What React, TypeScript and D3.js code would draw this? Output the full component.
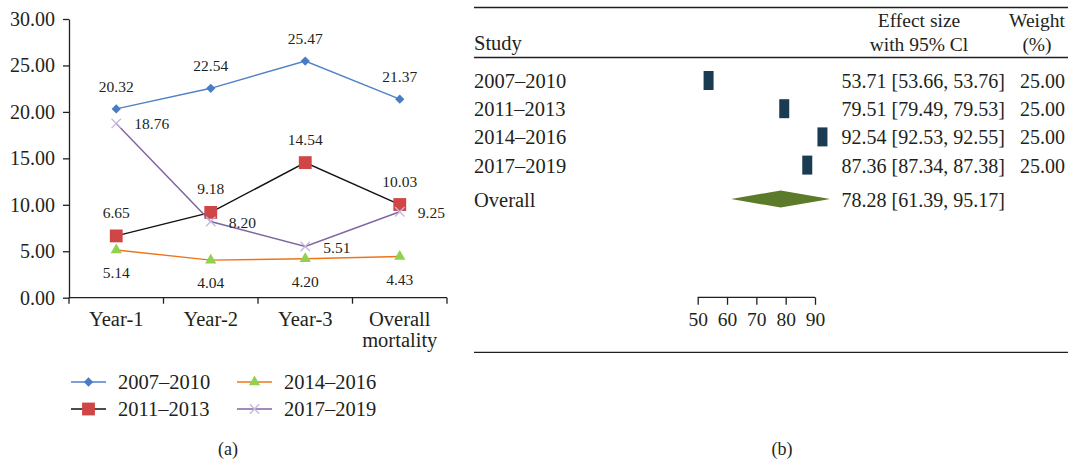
import React, { useEffect, useRef } from "react";
import * as d3 from "d3";

// Panel (a): mortality by period
const categories = ["Year-1", "Year-2", "Year-3", "Overall mortality"];
const periods = ["2007–2010", "2011–2013", "2014–2016", "2017–2019"];
const mort2007 = [20.32, 22.54, 25.47, 21.37];
const mort2011 = [6.65, 9.18, 14.54, 10.03];
const mort2014 = [5.14, 4.04, 4.2, 4.43];
const mort2017 = [18.76, 8.2, 5.51, 9.25];
const yTicks = [0, 5, 10, 15, 20, 25, 30];

// Panel (b): forest plot
const effect = [53.71, 79.51, 92.54, 87.36];
const ciLow = [53.66, 79.49, 92.53, 87.34];
const ciHigh = [53.76, 79.53, 92.55, 87.38];
const weights = [25, 25, 25, 25];
const overall = [78.28, 61.39, 95.17];
const forestTicks = [50, 60, 70, 80, 90];

const FONT = "'Liberation Serif', 'Times New Roman', serif";

const App = () => {
  const svgRef = useRef<SVGSVGElement>(null);

  useEffect(() => {
    const svg = d3.select(svgRef.current);
    svg.selectAll("*").remove();
    svg.attr("font-family", FONT).attr("fill", "#231f20");

    // ---------- panel (a) ----------
    const x = d3.scaleBand().domain(categories).range([69, 447]);
    const y = d3.scaleLinear().domain([0, 30]).range([297.7, 19]);
    const cx = (c: string) => (x(c) as number) + x.bandwidth() / 2;

    const yAxis = svg
      .append("g")
      .attr("transform", "translate(69,0)")
      .call(
        d3.axisLeft(y).tickValues(yTicks).tickFormat(d3.format(".2f")).tickSize(6).tickSizeOuter(0).tickPadding(8)
      );
    yAxis.selectAll("text").attr("font-size", 20).attr("font-family", FONT).attr("fill", "#231f20");
    yAxis.selectAll("line,path").attr("stroke", "#231f20").attr("stroke-width", 1.3);

    // x axis, ticks at category boundaries
    const xa = svg.append("g");
    xa.append("line")
      .attr("x1", 69).attr("x2", 447).attr("y1", y(0)).attr("y2", y(0))
      .attr("stroke", "#231f20").attr("stroke-width", 1.3);
    const bounds = categories.map((c) => x(c) as number).concat([x.range()[1]]);
    xa.selectAll(".tk").data(bounds).enter().append("line")
      .attr("x1", (d) => d).attr("x2", (d) => d)
      .attr("y1", y(0)).attr("y2", y(0) + 6)
      .attr("stroke", "#231f20").attr("stroke-width", 1.3);
    categories.forEach((c) => {
      const words = c === "Overall mortality" ? ["Overall", "mortality"] : [c];
      words.forEach((w, i) => {
        xa.append("text").attr("x", cx(c)).attr("y", 326 + i * 21)
          .attr("text-anchor", "middle").attr("font-size", 20.5).text(w);
      });
    });

    const series = [
      { name: periods[0], vals: mort2007, line: "#4f81c7", fill: "#4a7cc4", marker: "diamond", lab: [0, -17, "middle"] },
      { name: periods[1], vals: mort2011, line: "#111111", fill: "#d04646", marker: "square", lab: [0, -18, "middle"] },
      { name: periods[2], vals: mort2014, line: "#ef7418", fill: "#92d050", marker: "triangle", lab: [0, 28, "middle"] },
      { name: periods[3], vals: mort2017, line: "#8064a2", fill: "#c4b8e0", marker: "cross", lab: [18, 6, "start"] },
    ];

    const symbolOf = (m: string) =>
      m === "diamond"
        ? d3.symbol().type(d3.symbolDiamond2).size(55)
        : m === "square"
        ? d3.symbol().type(d3.symbolSquare).size(165)
        : m === "triangle"
        ? d3.symbol().type(d3.symbolTriangle).size(55)
        : d3.symbol().type(d3.symbolTimes).size(60);

    const drawMarker = (g: any, m: string, px: number, py: number, fill: string) => {
      const p = g.append("path").attr("d", symbolOf(m)()).attr("transform", `translate(${px},${py})`);
      if (m === "cross") p.attr("fill", "none").attr("stroke", fill).attr("stroke-width", 1.3);
      else p.attr("fill", fill);
    };

    const lineGen = d3.line<number>().x((_, i) => cx(categories[i])).y((d) => y(d));

    series.forEach((s) => {
      const g = svg.append("g");
      g.append("path").attr("d", lineGen(s.vals)).attr("fill", "none").attr("stroke", s.line).attr("stroke-width", 1.4);
      s.vals.forEach((v, i) => drawMarker(g, s.marker, cx(categories[i]), y(v), s.fill));
    });
    // value labels
    series.forEach((s) => {
      s.vals.forEach((v, i) => {
        svg.append("text")
          .attr("x", cx(categories[i]) + (s.lab[0] as number))
          .attr("y", y(v) + (s.lab[1] as number))
          .attr("text-anchor", s.lab[2] as string)
          .attr("font-size", 15.5)
          .text(v.toFixed(2));
      });
    });

    // legend
    const legendPos = [
      [71, 382], [71, 409], [237, 382], [237, 409],
    ];
    series.forEach((s, j) => {
      const [lx, ly] = legendPos[j];
      const g = svg.append("g");
      g.append("line").attr("x1", lx).attr("x2", lx + 35).attr("y1", ly).attr("y2", ly)
        .attr("stroke", s.line).attr("stroke-width", 1.4);
      drawMarker(g, s.marker, lx + 17.5, ly, s.fill);
      g.append("text").attr("x", lx + 47).attr("y", ly + 7).attr("font-size", 20.5).text(s.name);
    });

    svg.append("text").attr("x", 228).attr("y", 455).attr("text-anchor", "middle").attr("font-size", 18).text("(a)");

    // ---------- panel (b) ----------
    const fx = d3.scaleLinear().domain([50, 90]).range([697.7, 815]);
    const rowY = d3.scaleLinear().domain([0, 1]).range([80.5, 108.7]);
    const overallY = 199;
    const left = 474;
    const right = 1068;

    const fb = svg.append("g");
    [7.5, 57.5, 352.3].forEach((ly) => {
      fb.append("line").attr("x1", left).attr("x2", right).attr("y1", ly).attr("y2", ly)
        .attr("stroke", "#231f20").attr("stroke-width", 1.3);
    });

    fb.append("text").attr("x", left).attr("y", 50).attr("font-size", 20.5).text("Study");
    fb.append("text").attr("x", 919).attr("y", 27).attr("text-anchor", "middle").attr("font-size", 19.5).text("Effect size");
    fb.append("text").attr("x", 919).attr("y", 50.5).attr("text-anchor", "middle").attr("font-size", 19.5).text("with 95% Cl");
    fb.append("text").attr("x", 1037).attr("y", 27).attr("text-anchor", "middle").attr("font-size", 19.5).text("Weight");
    fb.append("text").attr("x", 1037).attr("y", 50.5).attr("text-anchor", "middle").attr("font-size", 19.5).text("(%)");

    periods.forEach((p, i) => {
      const cy = rowY(i);
      fb.append("text").attr("x", left).attr("y", cy + 7.5).attr("font-size", 20.5).text(p);
      fb.append("line").attr("x1", fx(ciLow[i])).attr("x2", fx(ciHigh[i])).attr("y1", cy).attr("y2", cy).attr("stroke", "#1b3b53");
      fb.append("rect").attr("x", fx(effect[i]) - 5).attr("y", cy - 9.5).attr("width", 10).attr("height", 19).attr("fill", "#1b3b53");
      fb.append("text").attr("x", 841.5).attr("y", cy + 7.5).attr("font-size", 20)
        .text(`${effect[i].toFixed(2)} [${ciLow[i].toFixed(2)}, ${ciHigh[i].toFixed(2)}]`);
      fb.append("text").attr("x", 1065).attr("y", cy + 7.5).attr("text-anchor", "end").attr("font-size", 20)
        .text(weights[i].toFixed(2));
    });

    fb.append("text").attr("x", left).attr("y", overallY + 8).attr("font-size", 20.5).text("Overall");
    fb.append("path")
      .attr("d", `M${fx(overall[1])},${overallY} L${fx(overall[0])},${overallY - 8.5} L${fx(overall[2])},${overallY} L${fx(overall[0])},${overallY + 8.5} Z`)
      .attr("fill", "#5b7a2a");
    fb.append("text").attr("x", 841.5).attr("y", overallY + 8).attr("font-size", 20)
      .text(`${overall[0].toFixed(2)} [${overall[1].toFixed(2)}, ${overall[2].toFixed(2)}]`);

    const fAxis = fb.append("g").attr("transform", "translate(0,297.3)")
      .call(d3.axisBottom(fx).tickValues(forestTicks).tickFormat(d3.format("d")).tickSize(7.5).tickSizeOuter(0));
    fAxis.selectAll("path").remove();
    fAxis.append("line").attr("x1", fx(50)).attr("x2", fx(90)).attr("y1", 0).attr("y2", 0).attr("stroke", "#231f20").attr("stroke-width", 1.3);
    fAxis.selectAll(".tick line").attr("stroke", "#231f20").attr("stroke-width", 1.3);
    fAxis.selectAll("text").attr("font-size", 19.5).attr("font-family", FONT).attr("fill", "#231f20").attr("y", 29).attr("dy", 0);

    fb.append("text").attr("x", 782).attr("y", 455).attr("text-anchor", "middle").attr("font-size", 18).text("(b)");
  }, []);

  return (
    <svg
      ref={svgRef}
      width={1073}
      height={462}
      style={{ position: "absolute", left: 0, top: 0, background: "#fff" }}
    />
  );
};

export default App;
